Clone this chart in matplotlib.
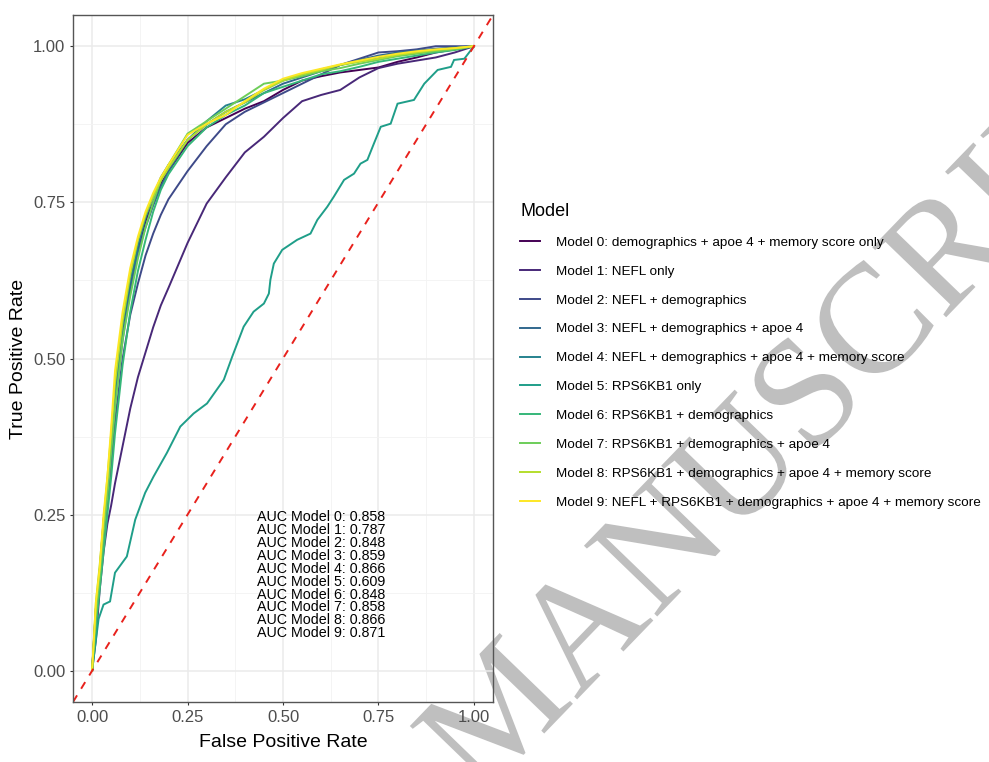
import matplotlib
matplotlib.use("Agg")
import matplotlib.pyplot as plt
import matplotlib.patheffects as pe
from matplotlib.ticker import MultipleLocator, FormatStrFormatter

plt.rcParams['font.family'] = ['Liberation Sans', 'DejaVu Sans']

model_labels = [
    "Model 0: demographics + apoe 4 + memory score only",
    "Model 1: NEFL only",
    "Model 2: NEFL + demographics",
    "Model 3: NEFL + demographics + apoe 4",
    "Model 4: NEFL + demographics + apoe 4 + memory score",
    "Model 5: RPS6KB1 only",
    "Model 6: RPS6KB1 + demographics",
    "Model 7: RPS6KB1 + demographics + apoe 4",
    "Model 8: RPS6KB1 + demographics + apoe 4 + memory score",
    "Model 9: NEFL + RPS6KB1 + demographics + apoe 4 + memory score",
]
auc_values = [0.858, 0.787, 0.848, 0.859, 0.866, 0.609, 0.848, 0.858, 0.866, 0.871]

# viridis, 10 levels
palette = ["#440154", "#482878", "#3E4A89", "#31688E", "#26828E",
           "#1F9E89", "#35B779", "#6DCD59", "#B4DE2C", "#FDE725"]

# false positive rates shared by most curves
fpr_grid = [0, 0.01, 0.02, 0.03, 0.04, 0.05, 0.06, 0.08, 0.10, 0.12, 0.14, 0.16,
            0.18, 0.20, 0.25, 0.30, 0.35, 0.40, 0.45, 0.50, 0.55, 0.60, 0.65,
            0.70, 0.75, 0.80, 0.85, 0.90, 0.95, 1.0]

tpr_m0 = [0, 0.10, 0.16, 0.24, 0.30, 0.37, 0.45, 0.55, 0.62, 0.675, 0.72, 0.75,
          0.78, 0.80, 0.845, 0.87, 0.885, 0.90, 0.912, 0.93, 0.945, 0.952, 0.958,
          0.962, 0.966, 0.975, 0.982, 0.99, 0.995, 1.0]
tpr_m1 = [0, 0.05, 0.13, 0.19, 0.235, 0.265, 0.30, 0.36, 0.42, 0.47, 0.51, 0.55,
          0.585, 0.613, 0.685, 0.748, 0.79, 0.83, 0.855, 0.885, 0.912, 0.922, 0.93,
          0.95, 0.965, 0.972, 0.977, 0.982, 0.99, 1.0]
tpr_m2 = [0, 0.08, 0.14, 0.21, 0.27, 0.33, 0.40, 0.50, 0.57, 0.62, 0.665, 0.70,
          0.73, 0.755, 0.80, 0.84, 0.875, 0.895, 0.91, 0.925, 0.94, 0.955, 0.97,
          0.98, 0.99, 0.992, 0.995, 1.0, 1.0, 1.0]
tpr_m3 = [0, 0.09, 0.15, 0.22, 0.29, 0.36, 0.43, 0.53, 0.61, 0.67, 0.71, 0.745,
          0.775, 0.80, 0.85, 0.875, 0.895, 0.91, 0.925, 0.94, 0.95, 0.96, 0.97,
          0.978, 0.985, 0.99, 0.993, 0.996, 0.998, 1.0]
tpr_m4 = [0, 0.10, 0.16, 0.23, 0.30, 0.37, 0.44, 0.55, 0.625, 0.68, 0.725, 0.76,
          0.79, 0.81, 0.85, 0.88, 0.905, 0.915, 0.93, 0.945, 0.955, 0.963, 0.97,
          0.976, 0.982, 0.987, 0.99, 0.993, 0.996, 1.0]
tpr_m6 = [0, 0.07, 0.13, 0.19, 0.25, 0.31, 0.38, 0.49, 0.575, 0.64, 0.69, 0.735,
          0.77, 0.795, 0.84, 0.87, 0.89, 0.905, 0.925, 0.935, 0.945, 0.955, 0.96,
          0.967, 0.975, 0.98, 0.985, 0.99, 0.994, 1.0]
tpr_m7 = [0, 0.09, 0.15, 0.22, 0.28, 0.35, 0.42, 0.53, 0.60, 0.66, 0.71, 0.75,
          0.785, 0.81, 0.86, 0.88, 0.90, 0.92, 0.94, 0.945, 0.952, 0.96, 0.965,
          0.972, 0.978, 0.984, 0.988, 0.992, 0.995, 1.0]
tpr_m8 = [0, 0.11, 0.17, 0.24, 0.31, 0.38, 0.46, 0.56, 0.635, 0.69, 0.73, 0.76,
          0.785, 0.805, 0.85, 0.875, 0.895, 0.91, 0.93, 0.945, 0.955, 0.962, 0.97,
          0.975, 0.98, 0.986, 0.99, 0.994, 0.997, 1.0]
tpr_m9 = [0, 0.11, 0.165, 0.25, 0.31, 0.39, 0.48, 0.575, 0.645, 0.695, 0.735, 0.765,
          0.79, 0.81, 0.858, 0.876, 0.89, 0.912, 0.932, 0.948, 0.957, 0.964, 0.971,
          0.977, 0.983, 0.988, 0.992, 0.995, 0.997, 1.0]

# RPS6KB1-only curve has its own thresholds
fpr_m5 = [0, 0.017, 0.03, 0.047, 0.06, 0.091, 0.113, 0.139, 0.161, 0.196, 0.231,
          0.266, 0.301, 0.345, 0.367, 0.397, 0.423, 0.45, 0.463, 0.467, 0.476,
          0.498, 0.537, 0.572, 0.59, 0.616, 0.633, 0.66, 0.686, 0.703, 0.721,
          0.738, 0.756, 0.782, 0.80, 0.843, 0.87, 0.905, 0.94, 0.948, 0.975, 1.0]
tpr_m5 = [0, 0.083, 0.106, 0.111, 0.157, 0.183, 0.242, 0.285, 0.311, 0.349, 0.391,
          0.412, 0.428, 0.466, 0.503, 0.551, 0.575, 0.588, 0.604, 0.626, 0.652,
          0.674, 0.69, 0.70, 0.722, 0.743, 0.759, 0.786, 0.796, 0.812, 0.818,
          0.844, 0.871, 0.876, 0.908, 0.914, 0.94, 0.962, 0.967, 0.978, 0.98, 1.0]

curves = [
    (fpr_grid, tpr_m0), (fpr_grid, tpr_m1), (fpr_grid, tpr_m2), (fpr_grid, tpr_m3),
    (fpr_grid, tpr_m4), (fpr_m5, tpr_m5), (fpr_grid, tpr_m6), (fpr_grid, tpr_m7),
    (fpr_grid, tpr_m8), (fpr_grid, tpr_m9),
]

fig = plt.figure(figsize=(9.89, 7.62), dpi=100)
ax = fig.add_axes([73 / 989, 1 - 702 / 762, 420 / 989, 687 / 762])
ax.set_facecolor('none')

lines = []
for (x, y), col, lab in zip(curves, palette, model_labels):
    ln, = ax.plot(x, y, color=col, lw=1.4, label=lab, solid_joinstyle='miter')
    lines.append(ln)

ax.plot([-0.05, 1.05], [-0.05, 1.05], color='#e8211c', lw=1.4, ls=(0, (4, 4)))

auc_text = "\n".join(f"AUC Model {i}: {a:.3f}" for i, a in enumerate(auc_values))
ax.text(0.6, 0.153, auc_text, ha='center', va='center', fontsize=10.3,
        linespacing=0.9, color='black')

ax.set_xlim(-0.05, 1.05)
ax.set_ylim(-0.05, 1.05)
ax.xaxis.set_major_locator(MultipleLocator(0.25))
ax.yaxis.set_major_locator(MultipleLocator(0.25))
ax.xaxis.set_minor_locator(MultipleLocator(0.125))
ax.yaxis.set_minor_locator(MultipleLocator(0.125))
ax.xaxis.set_major_formatter(FormatStrFormatter('%.2f'))
ax.yaxis.set_major_formatter(FormatStrFormatter('%.2f'))
ax.grid(which='major', color='#ebebeb', lw=1.1)
ax.grid(which='minor', color='#f3f3f3', lw=0.6)
ax.set_axisbelow(True)
ax.tick_params(which='major', length=2.5, width=0.8, color='#333333',
               labelsize=12, labelcolor='#4d4d4d', pad=3)
ax.tick_params(which='minor', length=0)
for s in ax.spines.values():
    s.set_color('#555555')
    s.set_linewidth(1.0)

ax.set_xlabel("False Positive Rate", fontsize=14, labelpad=7)
ax.set_ylabel("True Positive Rate", fontsize=14, labelpad=4)

leg = fig.legend(handles=lines, loc='upper left', bbox_to_anchor=(520 / 989, 1 - 203 / 762),
                 frameon=False, fontsize=9.7, title="Model", title_fontsize=13,
                 alignment='left', handlelength=1.5, handletextpad=1.2,
                 labelspacing=1.22, borderpad=0, borderaxespad=0)

# diagonal watermark
fig.text(480 / 989, -38 / 762, "MANUSCRIPT", rotation=46, rotation_mode='anchor',
         ha='left', va='baseline', fontsize=112, family='Liberation Serif',
         color='#bfbfbf', zorder=-1,
         path_effects=[pe.withStroke(linewidth=2.5, foreground='white')])

fig.savefig("out.png", dpi=100)
